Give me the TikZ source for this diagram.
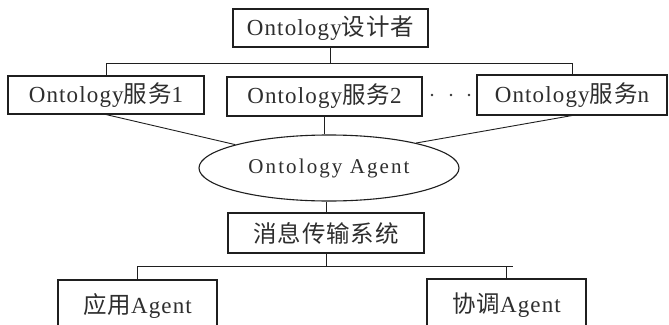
\documentclass[tikz,border=0pt]{standalone}
\usepackage{fontspec}
\setmainfont[LetterSpace=5]{Liberation Serif}
\newfontfamily\cjkfam[LetterSpace=4]{Noto Sans CJK SC}
\newfontfamily\ellfam[LetterSpace=10]{Liberation Serif}
\usetikzlibrary{shapes.geometric}
\newcommand\myzh[1]{{\cjkfam\fontsize{23.5}{23.5}\selectfont #1}}
\begin{document}
\begin{tikzpicture}[x=1pt,y=-1pt,
  box/.style={draw=black!88, line width=1.1pt, inner sep=0pt, text=black!82,
              font=\fontsize{23}{23}\selectfont},
  conn/.style={draw=black!88, line width=0.9pt}]
\useasboundingbox (0,0) rectangle (669,324);
\clip (0,0) rectangle (669,324);
\fill[white] (0,0) rectangle (669,324);

\node[box, minimum width=195pt, minimum height=38pt] (top) at (330.5,28) {Ontology\myzh{设计者}};
\node[box, minimum width=196pt, minimum height=38pt] (s1) at (106,95) {Ontology\myzh{服务}1};
\node[box, minimum width=195pt, minimum height=39pt] (s2) at (324.5,96.5) {Ontology\myzh{服务}2};
\node[box, minimum width=190pt, minimum height=40pt] (sn) at (572,95) {Ontology\myzh{服务}n};
\node[box, ellipse, minimum width=260pt, minimum height=66pt] (ell) at (329,168)
  {\ellfam\fontsize{21}{21}\selectfont Ontology Agent};
\node[box, minimum width=196pt, minimum height=40pt] (msg) at (326,233) {\myzh{消息传输系统}};
\node[box, minimum width=159pt, minimum height=52pt] (app) at (137.5,306) {\myzh{应用}Agent};
\node[box, minimum width=159pt, minimum height=52pt] (coo) at (506.5,305) {\myzh{协调}Agent};

\foreach \x in {432,451,469} \fill[black!80] (\x,95) circle (1.3pt);

\coordinate (topbus) at (330.5,63);
\coordinate (botbus) at (513,266);

\draw[conn] (top.south) -- (topbus);
\draw[conn] (s1.north) |- (topbus);
\draw[conn] (sn.north) |- (topbus);
\draw[conn] (s1.south) -- (ell.166);
\draw[conn] (sn.south) -- (ell.16);
\draw[conn] (s2.south) -- (s2.south |- ell.north);
\draw[conn] (msg.north) -- (msg.north |- ell.south);
\draw[conn] (msg.south) -- (msg.south |- botbus);
\draw[conn] (app.north) |- (botbus);
\draw[conn] (coo.north) -- (coo.north |- botbus);
\end{tikzpicture}
\end{document}
